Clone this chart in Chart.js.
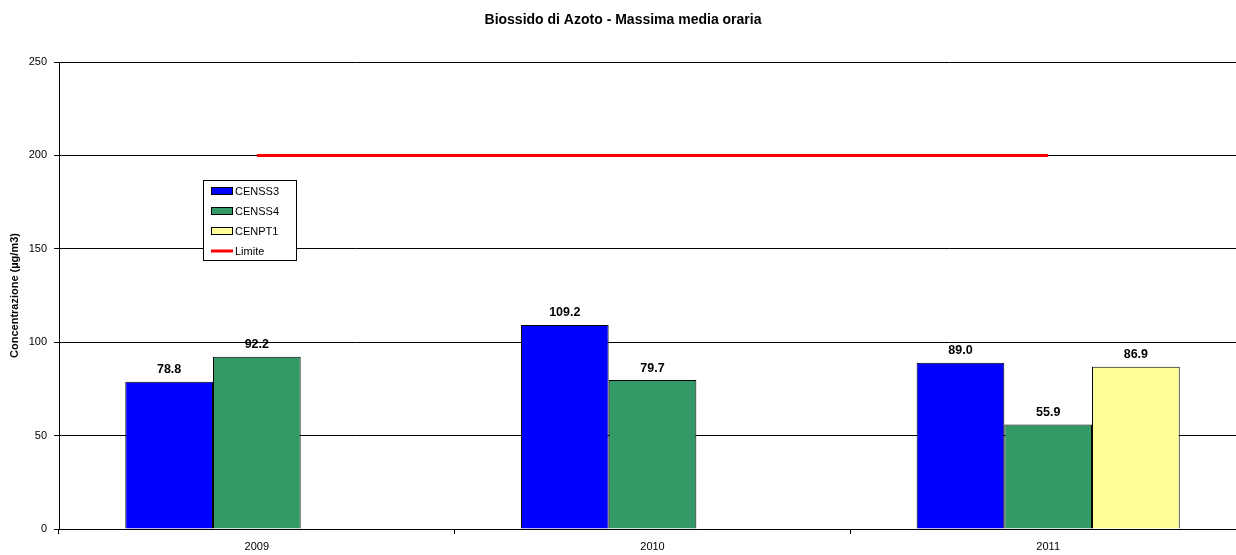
<!DOCTYPE html>
<html>
<head>
<meta charset="utf-8">
<script src="https://cdn.jsdelivr.net/npm/chart.js@4/dist/chart.umd.min.js"></script>
<style>
    html, body { margin: 0; padding: 0; background: #fff; overflow: hidden; }
    #wrap { position: relative; width: 1246px; height: 555px; }
</style>
</head>
<body>
<div id="wrap"><canvas id="no2Chart"></canvas></div>
<script>
const years = ['2009', '2010', '2011'];
const censs3 = [78.8, 109.2, 89.0];
const censs4 = [92.2, 79.7, 55.9];
const cenpt1 = [null, null, 86.9];
const limite = [200, 200, 200];
const yTicks = [0, 50, 100, 150, 200, 250];

const FONT = "'Liberation Sans', Arial, sans-serif";

// Title, value labels and boxed legend drawn straight onto the canvas
const decorations = {
    id: 'decorations',
    afterDatasetsDraw(chart) {
        const ctx = chart.ctx;
        ctx.save();
        ctx.fillStyle = '#000';
        ctx.font = 'bold 12.5px ' + FONT;
        ctx.textAlign = 'center';
        ctx.textBaseline = 'middle';
        chart.data.datasets.forEach((ds, i) => {
            if (ds.type === 'line') return;
            chart.getDatasetMeta(i).data.forEach((bar, j) => {
                const v = ds.data[j];
                if (v == null) return;
                ctx.fillText(v.toFixed(1), bar.x, bar.y - 12);
            });
        });
        ctx.restore();
    },
    afterDraw(chart) {
        const ctx = chart.ctx;
        ctx.save();
        ctx.fillStyle = '#000';
        ctx.font = 'bold 14px ' + FONT;
        ctx.textAlign = 'center';
        ctx.textBaseline = 'middle';
        ctx.fillText('Biossido di Azoto - Massima media oraria', 623, 20);

        // legend box
        const lx = 203.5, ly = 180.5, lw = 93, lh = 80;
        ctx.fillStyle = '#fff';
        ctx.fillRect(lx, ly, lw, lh);
        ctx.strokeStyle = '#000';
        ctx.lineWidth = 1;
        ctx.strokeRect(lx, ly, lw, lh);
        ctx.font = '11px ' + FONT;
        ctx.textAlign = 'left';
        chart.data.datasets.forEach((ds, i) => {
            const cy = 191 + i * 20;
            if (ds.type === 'line') {
                ctx.strokeStyle = ds.borderColor;
                ctx.lineWidth = 3;
                ctx.beginPath();
                ctx.moveTo(211, cy);
                ctx.lineTo(233, cy);
                ctx.stroke();
            } else {
                ctx.fillStyle = ds.backgroundColor;
                ctx.fillRect(211.5, cy - 3.5, 21, 7);
                ctx.strokeStyle = '#000';
                ctx.lineWidth = 1;
                ctx.strokeRect(211.5, cy - 3.5, 21, 7);
            }
            ctx.fillStyle = '#000';
            ctx.fillText(ds.label, 235, cy + 1);
        });
        ctx.restore();
    }
};

const ctx = document.getElementById('no2Chart').getContext('2d');
const no2Chart = new Chart(ctx, {
    type: 'bar',
    data: {
        labels: years,
        datasets: [
            {
                label: 'CENSS3',
                data: censs3,
                backgroundColor: '#0000FF',
                borderColor: '#000',
                borderWidth: 1
            },
            {
                label: 'CENSS4',
                data: censs4,
                backgroundColor: '#339966',
                borderColor: '#000',
                borderWidth: 1
            },
            {
                label: 'CENPT1',
                data: cenpt1,
                backgroundColor: '#FFFF99',
                borderColor: '#000',
                borderWidth: 1
            },
            {
                type: 'line',
                label: 'Limite',
                data: limite,
                borderColor: '#FF0000',
                borderWidth: 3,
                pointRadius: 0,
                fill: false
            }
        ]
    },
    options: {
        responsive: true,
        maintainAspectRatio: false,
        animation: false,
        layout: {
            padding: { top: 62, left: 0, right: 0, bottom: 0 }
        },
        datasets: {
            bar: {
                barPercentage: 1,
                categoryPercentage: 0.665
            }
        },
        plugins: {
            legend: { display: false },
            tooltip: { enabled: false }
        },
        scales: {
            x: {
                grid: {
                    drawOnChartArea: false,
                    drawTicks: true,
                    tickLength: 5,
                    color: '#000'
                },
                border: { color: '#000' },
                ticks: {
                    color: '#000',
                    padding: 6,
                    maxRotation: 0,
                    font: { family: FONT, size: 11 }
                },
                afterFit(scale) {
                    scale.height = 26;
                }
            },
            y: {
                min: 0,
                max: 250,
                afterBuildTicks(scale) {
                    scale.ticks = yTicks.map(v => ({ value: v }));
                },
                grid: {
                    color: '#000',
                    tickLength: 5,
                    drawTicks: true
                },
                border: { color: '#000' },
                ticks: {
                    color: '#000',
                    padding: 7,
                    font: { family: FONT, size: 11 }
                },
                title: {
                    display: true,
                    text: 'Concentrazione (µg/m3)',
                    color: '#000',
                    padding: { top: 8, bottom: 0 },
                    font: { family: FONT, size: 11, weight: 'bold' }
                },
                afterFit(scale) {
                    scale.width = 59;
                }
            }
        }
    },
    plugins: [decorations]
});
</script>
</body>
</html>
